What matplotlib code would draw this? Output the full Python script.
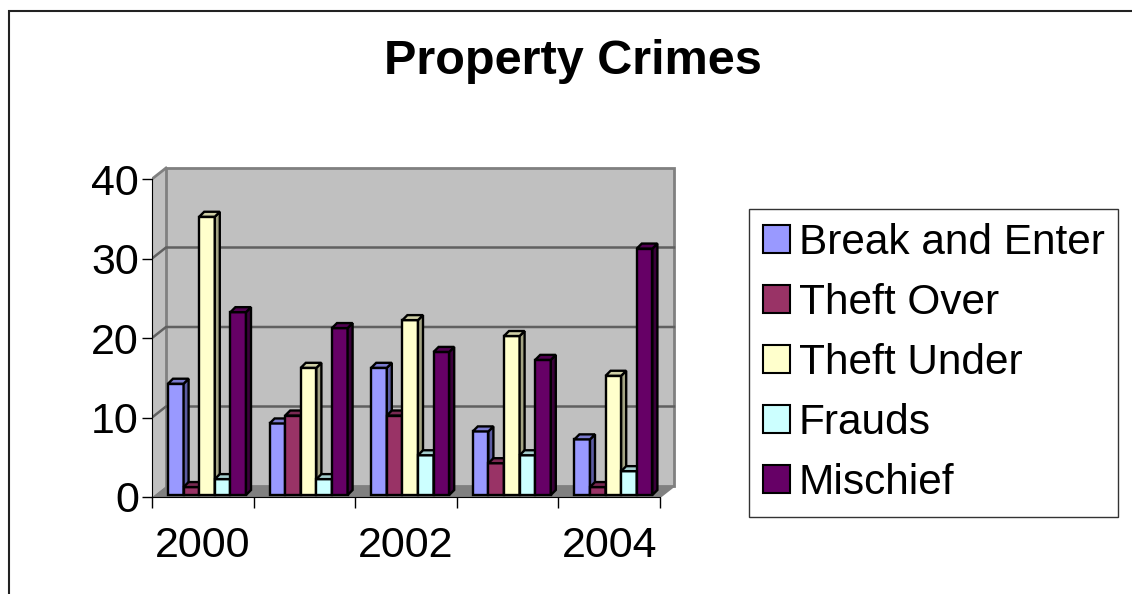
import matplotlib
matplotlib.use("Agg")
import matplotlib.pyplot as plt
from matplotlib.patches import Polygon, Rectangle, Patch
from matplotlib.lines import Line2D

plt.rcParams['font.family'] = ['Liberation Sans', 'DejaVu Sans']

# ---- data ----
title = "Property Crimes"
years = ["2000", "2001", "2002", "2003", "2004"]
shown_year_labels = ["2000", "", "2002", "", "2004"]
series_names = ["Break and Enter", "Theft Over", "Theft Under", "Frauds", "Mischief"]
break_and_enter = [14, 9, 16, 8, 7]
theft_over = [1, 10, 10, 4, 1]
theft_under = [35, 16, 22, 20, 15]
frauds = [2, 2, 5, 5, 3]
mischief = [23, 21, 18, 17, 31]
y_ticks = [0, 10, 20, 30, 40]

series_values = [break_and_enter, theft_over, theft_under, frauds, mischief]
front_colors = ["#9999FF", "#993366", "#FFFFCC", "#CCFFFF", "#660066"]
side_colors = ["#5C5CA3", "#5E1F3F", "#A3A383", "#83A3A3", "#3A003A"]
top_colors = ["#7B7BCF", "#7A2952", "#CFCFA6", "#A6CFCF", "#520052"]

W, H = 1132, 594
fig = plt.figure(figsize=(W / 100, H / 100), dpi=100)

# pixel geometry of the front plane
x0_px, y0_px = 152, 497
px_per_cat = 101.6
px_per_val = 7.95
xmax, ymax = 5.2, 41.8
ax = fig.add_axes([x0_px / W, (H - y0_px) / H,
                   xmax * px_per_cat / W, ymax * px_per_val / H])
ax.set_xlim(0, xmax)
ax.set_ylim(0, ymax)
ax.patch.set_visible(False)

ncat = len(years)
top = y_ticks[-1]
# wall depth offsets (data units)
dxw = 14 / px_per_cat
dyw = 11 / px_per_val
# bar depth offsets
bx = 5 / px_per_cat
by = 5 / px_per_val

wall_c = "#C0C0C0"
floor_c = "#808080"
edge_c = "#808080"
grid_c = "#606060"

# left side wall
ax.add_patch(Polygon([(0, 0), (dxw, dyw), (dxw, top + dyw), (0, top)],
                     closed=True, facecolor=wall_c, edgecolor="none", zorder=0.5))
# back wall
ax.add_patch(Rectangle((dxw, dyw), ncat, top, facecolor=wall_c,
                       edgecolor=edge_c, lw=2, zorder=0.6))
# floor
ax.add_patch(Polygon([(0, 0), (ncat, 0), (ncat + dxw, dyw), (dxw, dyw)],
                     closed=True, facecolor=floor_c, edgecolor="none", zorder=0.7))
ax.add_line(Line2D([ncat, ncat + dxw], [0, dyw], color=edge_c, lw=1.5, zorder=0.8))
ax.add_line(Line2D([0, dxw], [top, top + dyw], color=edge_c, lw=2, zorder=0.8))
# gridlines
for v in y_ticks[1:-1]:
    ax.add_line(Line2D([0, dxw, ncat + dxw], [v, v + dyw, v + dyw],
                       color=grid_c, lw=1.8, zorder=0.9))

# bars
base = 0.25
bar_w = 15.6 / px_per_cat
first_off = 16 / px_per_cat
for k, (vals, fc, sc, tc) in enumerate(zip(series_values, front_colors, side_colors, top_colors)):
    xs = [i + first_off + k * bar_w for i in range(ncat)]
    z = 3 + k
    ax.bar(xs, vals, width=bar_w, bottom=base, align="edge", color=fc,
           edgecolor="black", linewidth=1.7, zorder=z)
    for x, v in zip(xs, vals):
        t = base + v
        ax.add_patch(Polygon([(x + bar_w, base), (x + bar_w + bx, base + by),
                              (x + bar_w + bx, t + by), (x + bar_w, t)],
                             closed=True, facecolor=sc, edgecolor="black", lw=1.7, zorder=z))
        ax.add_patch(Polygon([(x, t), (x + bx, t + by), (x + bar_w + bx, t + by), (x + bar_w, t)],
                             closed=True, facecolor=tc, edgecolor="black", lw=1.7, zorder=z))

# axes / spines
for s in ["top", "right"]:
    ax.spines[s].set_visible(False)
ax.spines["left"].set_bounds(0, top)
ax.spines["bottom"].set_bounds(0, ncat)
ax.spines["left"].set_zorder(10)
ax.spines["bottom"].set_zorder(10)
ax.set_yticks(y_ticks)
ax.set_yticklabels([str(v) for v in y_ticks])
ax.set_xticks(range(ncat + 1))
ax.set_xticklabels([""] * (ncat + 1))
ax.set_xticks([i + 0.5 for i in range(ncat)], minor=True)
ax.set_xticklabels(shown_year_labels, minor=True)
ax.tick_params(axis="y", direction="out", length=7, width=1, labelsize=31, pad=2.5)
ax.tick_params(axis="x", which="major", direction="out", length=8, width=1)
ax.tick_params(axis="x", which="minor", length=0, labelsize=31, pad=21)

# title
fig.text(573 / W, 1 - 73.5 / H, title, ha="center", va="baseline",
         fontsize=35, fontweight="bold")

# legend
handles = [Patch(facecolor=c, edgecolor="black", linewidth=1.5) for c in front_colors]
leg = fig.legend(handles, series_names, loc="upper left",
                 bbox_to_anchor=(749 / W, 1 - 209 / H), bbox_transform=fig.transFigure,
                 fontsize=30.5, handlelength=0.64, handleheight=0.64, handletextpad=0.2,
                 labelspacing=0.47, borderpad=0.33, borderaxespad=0, frameon=True,
                 fancybox=False, shadow=False)
leg.get_frame().set_edgecolor("black")
leg.get_frame().set_linewidth(1)

# outer chart border
fig.add_artist(Rectangle((9 / W, -0.1), 1.2, (H - 11) / H + 0.1,
                         transform=fig.transFigure, fill=False,
                         edgecolor="#222222", lw=1.5))

fig.savefig("out.png", dpi=100)
